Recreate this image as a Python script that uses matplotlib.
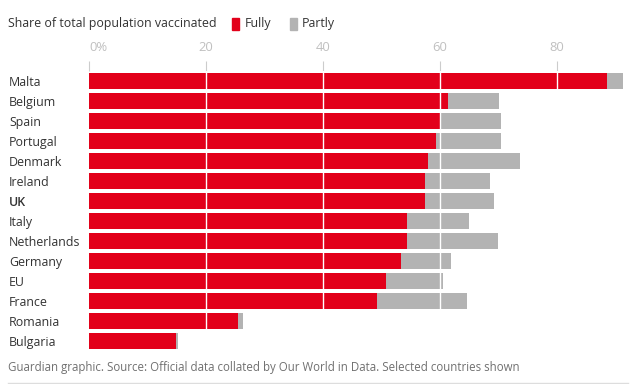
import matplotlib
matplotlib.use("Agg")
import matplotlib.pyplot as plt
from matplotlib.patches import Rectangle
from matplotlib.lines import Line2D

countries = ["Malta", "Belgium", "Spain", "Portugal", "Denmark", "Ireland", "UK",
             "Italy", "Netherlands", "Germany", "EU", "France", "Romania", "Bulgaria"]
fully = [88.5, 61.3, 60.1, 59.3, 57.9, 57.5, 57.4, 54.4, 54.4, 53.3, 50.8, 49.2, 25.5, 14.9]
partly = [2.8, 8.8, 10.4, 11.1, 15.7, 11.1, 11.8, 10.5, 15.5, 8.5, 9.7, 15.5, 0.8, 0.3]
xticks = [0, 20, 40, 60, 80]
xticklabels = ["0%", "20", "40", "60", "80"]

RED = "#e2001a"
GREY = "#b3b3b3"
FONT = "Open Sans"
FS = 8.9

plt.rcParams["font.family"] = [FONT, "DejaVu Sans"]

fig = plt.figure(figsize=(6.39, 3.84), dpi=100)
W, H = 639, 384
left, right = 89 / W, (89 + 92 * 5.85) / W
top, bottom = 1 - 71 / H, 1 - 351 / H
ax = fig.add_axes([left, bottom, right - left, top - bottom])

y = list(range(len(countries)))
ax.barh(y, fully, height=0.8, color=RED, zorder=2)
ax.barh(y, partly, left=fully, height=0.8, color=GREY, zorder=2)

ax.set_xlim(0, 92)
ax.set_ylim(len(countries) - 0.5, -0.5)

for xv in xticks[1:]:
    ax.axvline(xv, color="white", lw=1, zorder=3)

ax.xaxis.tick_top()
ax.set_xticks(xticks)
ax.set_xticklabels(xticklabels)
ax.tick_params(axis="x", length=7, width=0.8, color="#cccccc", pad=5,
               labelsize=9.4, labelcolor="#c0c0c0")
ax.get_xticklabels()[0].set_horizontalalignment("left")
ax.set_yticks(y)
ax.set_yticklabels(countries)
ax.tick_params(axis="y", length=0, pad=80 * 0.72, labelsize=FS, labelcolor="#333333")
for lab in ax.get_yticklabels():
    lab.set_horizontalalignment("left")
    if lab.get_text() == "UK":
        lab.set_fontweight("semibold")

for s in ax.spines.values():
    s.set_visible(False)

# Header
fig.text(8 / W, 1 - 24 / H, "Share of total population vaccinated", fontsize=FS,
         color="#333333", va="center", ha="left")
fig.patches.append(Rectangle((232 / W, 1 - 30 / H), 7 / W, 12 / H, transform=fig.transFigure,
                             color=RED, figure=fig))
fig.text(245 / W, 1 - 24 / H, "Fully", fontsize=FS, color="#333333", va="center", ha="left")
fig.patches.append(Rectangle((290 / W, 1 - 30 / H), 7 / W, 12 / H, transform=fig.transFigure,
                             color=GREY, figure=fig))
fig.text(302 / W, 1 - 24 / H, "Partly", fontsize=FS, color="#333333", va="center", ha="left")

# Footer
fig.text(8 / W, 1 - 368 / H,
         "Guardian graphic. Source: Official data collated by Our World in Data. Selected countries shown",
         fontsize=8.3, color="#707070", va="center", ha="left")
fig.lines.append(Line2D([8 / W, 628 / W], [1 - 383 / H, 1 - 383 / H], transform=fig.transFigure,
                        color="#dddddd", lw=1))

fig.savefig("out.png", dpi=100)
